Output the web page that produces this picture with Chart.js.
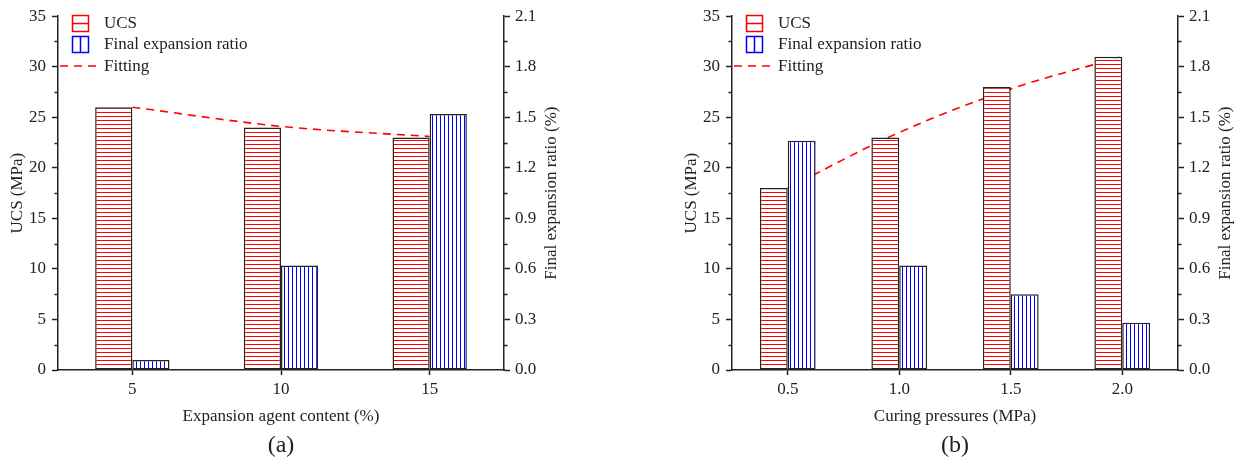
<!DOCTYPE html>
<html>
<head>
<meta charset="utf-8">
<script src="https://cdn.jsdelivr.net/npm/chart.js@4/dist/chart.umd.min.js"></script>
<style>
  html, body { margin: 0; padding: 0; background: #fff; }
  #wrap { position: relative; width: 1237px; height: 462px; }
  #chartA { position: absolute; left: 0; top: 0; }
  #chartB { position: absolute; left: 618px; top: 0; }
</style>
</head>
<body>
<div id="wrap">
  <canvas id="chartA" width="618" height="462"></canvas>
  <canvas id="chartB" width="619" height="462"></canvas>
</div>
<script>
// data
const categoriesA = ['5', '10', '15'];
const ucsA = [26, 24, 23];
const expansionA = [0.06, 0.62, 1.52];
const fitA = [26, 24.1, 23.1];

const categoriesB = ['0.5', '1.0', '1.5', '2.0'];
const ucsB = [18, 23, 28, 31];
const expansionB = [1.36, 0.62, 0.45, 0.28];
const fitB = [18, 23.5, 27.8, 31];

const legendLabels = ['UCS', 'Final expansion ratio', 'Fitting'];

const FONT = '"Liberation Serif", "Times New Roman", serif';
const INK = '#222';

function makePattern(color, vertical) {
  var c = document.createElement('canvas');
  c.width = 4; c.height = 4;
  var g = c.getContext('2d');
  g.fillStyle = '#fff';
  g.fillRect(0, 0, 4, 4);
  g.fillStyle = color;
  if (vertical) g.fillRect(0, 0, 1, 4);
  else g.fillRect(0, 0, 4, 1);
  return g.createPattern(c, 'repeat');
}

var redPattern = makePattern('#ff0000', false);
var bluePattern = makePattern('#0000ff', true);

// legend, axis titles, minor ticks
var decorPlugin = {
  id: 'decor',
  afterDraw: function(chart) {
    var o = chart.options.plugins.decor;
    var ctx = chart.ctx;
    var a = chart.chartArea;
    var yl = chart.scales.y, yr = chart.scales.y1;
    ctx.save();

    // minor ticks
    ctx.strokeStyle = INK;
    ctx.lineWidth = 1.5;
    ctx.beginPath();
    for (var v = 2.5; v < 35; v += 5) {
      var py = Math.round(yl.getPixelForValue(v)) + 0.5;
      ctx.moveTo(a.left - 3.5, py); ctx.lineTo(a.left, py);
    }
    for (var k = 0; k < 7; k++) {
      var py2 = Math.round(yr.getPixelForValue(0.15 + k * 0.3)) + 0.5;
      ctx.moveTo(a.right, py2); ctx.lineTo(a.right + 3.5, py2);
    }
    ctx.stroke();

    // legend
    var bx = a.left + 14.5;
    ctx.lineWidth = 1.5;
    ctx.strokeStyle = '#ff0000';
    ctx.strokeRect(bx, 15.5, 16, 16);
    ctx.beginPath(); ctx.moveTo(bx, 23.5); ctx.lineTo(bx + 16, 23.5); ctx.stroke();
    ctx.strokeStyle = '#0000ff';
    ctx.strokeRect(bx, 36.5, 16, 16);
    ctx.beginPath(); ctx.moveTo(bx + 8, 36.5); ctx.lineTo(bx + 8, 52.5); ctx.stroke();
    ctx.strokeStyle = '#ff0000';
    ctx.setLineDash([8, 6]);
    ctx.beginPath(); ctx.moveTo(a.left + 2, 66); ctx.lineTo(a.left + 44, 66); ctx.stroke();
    ctx.setLineDash([]);

    ctx.fillStyle = INK;
    ctx.font = '17px ' + FONT;
    ctx.textAlign = 'left';
    ctx.textBaseline = 'middle';
    ctx.fillText(legendLabels[0], a.left + 46, 24);
    ctx.fillText(legendLabels[1], a.left + 46, 45);
    ctx.fillText(legendLabels[2], a.left + 46, 67);

    // axis titles
    var midY = (a.top + a.bottom) / 2;
    var midX = (a.left + a.right) / 2;
    ctx.textAlign = 'center';
    ctx.save();
    ctx.translate(a.left - 40, midY);
    ctx.rotate(-Math.PI / 2);
    ctx.fillText(o.leftTitle, 0, 0);
    ctx.restore();
    ctx.save();
    ctx.translate(a.right + 48, midY);
    ctx.rotate(-Math.PI / 2);
    ctx.fillText(o.rightTitle, 0, 0);
    ctx.restore();
    ctx.fillText(o.xTitle, midX, 417);
    ctx.font = '24px ' + FONT;
    ctx.fillText(o.panel, midX, 446);
    ctx.restore();
  }
};

function buildChart(id, labels, ucs, expansion, fit, leftW, rightW, xTitle, panel) {
  var ctx = document.getElementById(id).getContext('2d');
  return new Chart(ctx, {
    type: 'bar',
    data: {
      labels: labels,
      datasets: [
        {
          type: 'line',
          label: legendLabels[2],
          data: fit,
          yAxisID: 'y',
          borderColor: '#ff0000',
          borderWidth: 1.6,
          borderDash: [8, 6],
          pointRadius: 0,
          cubicInterpolationMode: 'monotone',
          fill: false,
          order: 3
        },
        {
          label: legendLabels[0],
          data: ucs,
          yAxisID: 'y',
          backgroundColor: redPattern,
          borderColor: INK,
          borderWidth: 1.5,
          borderSkipped: false,
          order: 1
        },
        {
          label: legendLabels[1],
          data: expansion,
          yAxisID: 'y1',
          backgroundColor: bluePattern,
          borderColor: INK,
          borderWidth: 1.5,
          borderSkipped: false,
          order: 2
        }
      ]
    },
    options: {
      responsive: false,
      animation: false,
      devicePixelRatio: 1,
      categoryPercentage: 0.5,
      barPercentage: 1.0,
      layout: { padding: { top: 15, left: 0, right: 0, bottom: 0 } },
      plugins: {
        legend: { display: false },
        tooltip: { enabled: false },
        decor: {
          leftTitle: 'UCS (MPa)',
          rightTitle: 'Final expansion ratio (%)',
          xTitle: xTitle,
          panel: panel
        }
      },
      scales: {
        x: {
          type: 'category',
          offset: true,
          grid: { offset: false, drawOnChartArea: false, drawTicks: true, tickLength: 5, color: INK, tickWidth: 1.5 },
          border: { display: true, color: INK, width: 1.5 },
          ticks: { color: INK, font: { family: FONT, size: 17 }, padding: 4, maxRotation: 0 },
          afterFit: function(s) { s.height = 92; }
        },
        y: {
          position: 'left',
          min: 0, max: 35,
          grid: { drawOnChartArea: false, tickLength: 6, color: INK, tickWidth: 1.5 },
          border: { display: true, color: INK, width: 1.5 },
          ticks: { stepSize: 5, color: INK, font: { family: FONT, size: 17 }, padding: 6 },
          afterFit: function(s) { s.width = leftW; }
        },
        y1: {
          position: 'right',
          min: 0, max: 2.1,
          grid: { drawOnChartArea: false, tickLength: 6, color: INK, tickWidth: 1.5 },
          border: { display: true, color: INK, width: 1.5 },
          ticks: {
            stepSize: 0.3, color: INK, font: { family: FONT, size: 17 }, padding: 5,
            callback: function(v) { return Number(v).toFixed(1); }
          },
          afterFit: function(s) { s.width = rightW; }
        }
      }
    },
    plugins: [decorPlugin]
  });
}

buildChart('chartA', categoriesA, ucsA, expansionA, fitA, 58, 114, 'Expansion agent content (%)', '(a)');
buildChart('chartB', categoriesB, ucsB, expansionB, fitB, 114, 59, 'Curing pressures (MPa)', '(b)');
</script>
</body>
</html>
